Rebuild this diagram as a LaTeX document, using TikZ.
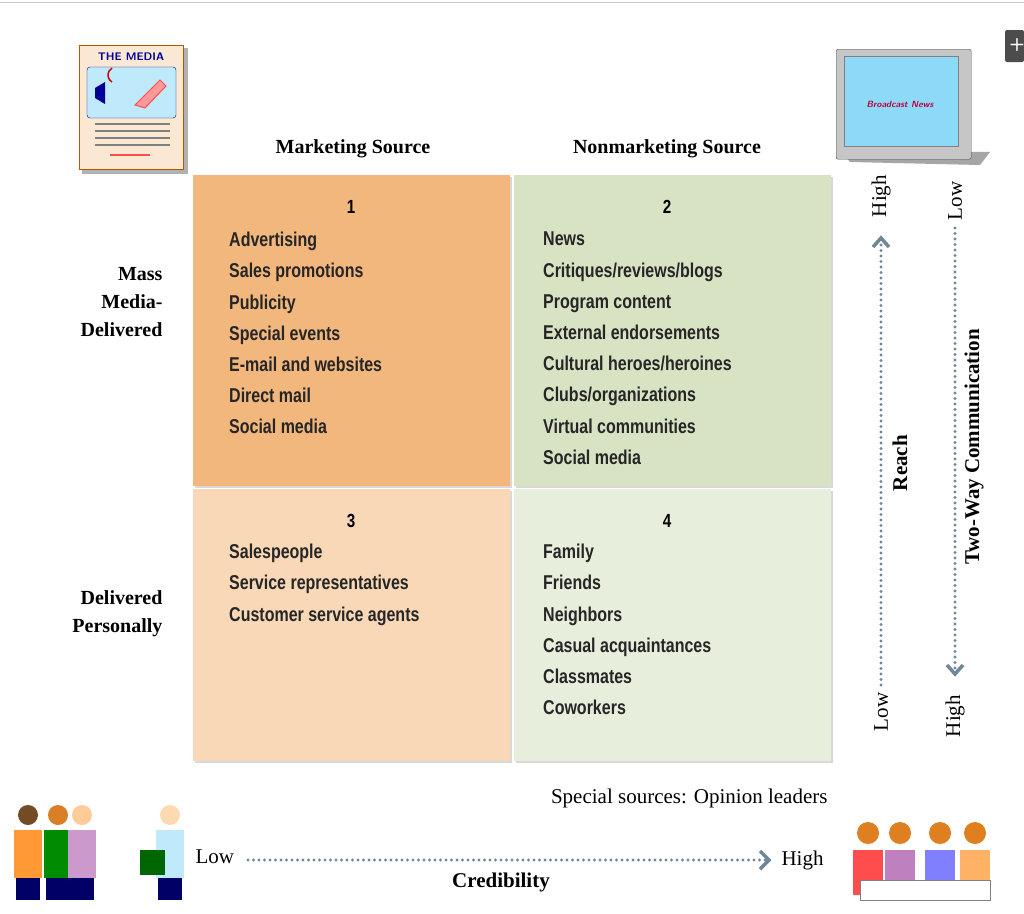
\documentclass[tikz,border=0pt]{standalone}
\usepackage{fontspec}
\setmainfont{Liberation Serif}
\newfontfamily\narrow{Liberation Sans}[FakeStretch=0.8]
\usetikzlibrary{shadows,arrows.meta}
\definecolor{qone}{HTML}{F2B77D}
\definecolor{qtwo}{HTML}{D8E3C4}
\definecolor{qthree}{HTML}{F8D8B6}
\definecolor{qfour}{HTML}{E7EEDB}
\definecolor{arr}{HTML}{6F8796}
\begin{document}
\begin{tikzpicture}[x=1pt,y=-1pt,
 quad/.style={draw=none,minimum width=317,minimum height=#1,anchor=north west,drop shadow={shadow xshift=2pt,shadow yshift=-2pt,opacity=0.3}},
 items/.style={font=\narrow\bfseries\fontsize{20}{31.2}\selectfont,align=left,anchor=north west,inner sep=0,text=black!85},
 num/.style={font=\narrow\bfseries\fontsize{19}{22}\selectfont},
 lab/.style={font=\fontsize{21}{28}\selectfont},
 dots/.style={arr,line width=3.2pt,dash pattern=on 0pt off 5.5pt,line cap=round},
 tip/.style={arr,line width=3.5pt}]
\useasboundingbox (0,0) rectangle (1024,913);
\fill[white] (0,0) rectangle (1024,913);
\draw[gray!40] (0,2)--(1024,2);
% quadrants
\node[quad=311,fill=qone] (q1) at (193,175) {};
\node[quad=311,fill=qtwo] (q2) at (514,175) {};
\node[quad=272,fill=qthree] (q3) at (193,489) {};
\node[quad=272,fill=qfour] (q4) at (514,489) {};
\node[num] (n1) at (351,207) {1};
\node[num] (n2) at (667,207) {2};
\node[num] (n3) at (351,521) {3};
\node[num] (n4) at (667,521) {4};
\node[items] (t1) at (229,232) {Advertising\\Sales promotions\\Publicity\\Special events\\E-mail and websites\\Direct mail\\Social media};
\node[items] (t2) at (543,232) {News\\Critiques/reviews/blogs\\Program content\\External endorsements\\Cultural heroes/heroines\\Clubs/organizations\\Virtual communities\\Social media};
\node[items] (t3) at (229,544) {Salespeople\\Service representatives\\Customer service agents};
\node[items] (t4) at (543,544) {Family\\Friends\\Neighbors\\Casual acquaintances\\Classmates\\Coworkers};
% headers
\node[lab,font=\bfseries\fontsize{20}{28}\selectfont] (h1) at (353,149) {Marketing Source};
\node[lab,font=\bfseries\fontsize{20}{28}\selectfont] (h2) at (667,149) {Nonmarketing Source};
\node[lab,font=\bfseries\fontsize{20}{28}\selectfont,align=right,anchor=east] (r1) at (166,302) {Mass\\Media-\\Delivered};
\node[lab,font=\bfseries\fontsize{20}{28}\selectfont,align=right,anchor=east] (r2) at (166,614) {Delivered\\Personally};
\node[lab,anchor=east] (sp) at (831,798) {Special sources: Opinion leaders};
% reach
\node[lab,rotate=90] (rl) at (881,712) {Low};
\node[lab,rotate=90] (rh) at (881,196) {High};
\coordinate (ra) at (881,685);
\coordinate (rb) at (881,240);
\draw[dots] (ra)--(rb);
\draw[tip] (873,247)--(881,238)--(889,247);
\node[lab,rotate=90] (rr) at (900,463) {\textbf{Reach}};
% two-way
\node[lab,rotate=90] (wl) at (955,201) {Low};
\node[lab,rotate=90] (wh) at (955,716) {High};
\coordinate (wa) at (955,228);
\coordinate (wb) at (955,672);
\draw[dots] (wa)--(wb);
\draw[tip] (947,665)--(955,674)--(963,665);
\node[lab,rotate=90] (ww) at (974,447) {\textbf{Two-Way Communication}};
% credibility
\node[lab,anchor=west] (cl) at (192,857) {Low};
\node[lab,anchor=west] (ch) at (778,860) {High};
\coordinate (ca) at (248,860);
\coordinate (cb) at (768,860);
\draw[dots] (ca)--(cb);
\draw[tip] (760,851)--(769,860)--(760,869);
\node[lab] (cc) at (501,882) {\textbf{Credibility}};
% media paper icon
\fill[black!30] (82,48) rectangle (188,174);
\node[draw=orange!70!black,fill=qthree!60,minimum width=104,minimum height=124,anchor=north west] (paper) at (79,45) {};
\node[font=\sffamily\bfseries\fontsize{11}{11}\selectfont,text=blue!60!black] (pm) at (131,57) {THE MEDIA};
\draw[blue!50!black,fill=cyan!25,rounded corners=3] (87,67) rectangle (176,118);
\fill[blue!60!black] (95,88) -- (105,82)--(105,104)--(95,98)--cycle;
\draw[red!80!black,line width=1.5] (112,82) arc(-60:60:-8);
\draw[red!70,fill=red!40,line width=1] (135,105)--(160,80)--(166,86)--(145,108)--cycle;
\foreach \yy in {124,131,138,145}{\draw[gray,line width=1.2] (95,\yy)--(170,\yy);}
\draw[red!70,line width=2] (110,155)--(150,155);
% tv icon
\fill[gray!70] (840,150) -- (990,152) -- (980,165) -- (850,162) -- cycle;
\node[draw=gray!60!black,fill=gray!45,minimum width=135,minimum height=110,anchor=north west,rounded corners=2] (tv) at (836,49) {};
\node[fill=cyan!45,minimum width=114,minimum height=90,anchor=north west,inner sep=0,draw=gray] (scr) at (844,56) {};
\node[font=\sffamily\bfseries\itshape\fontsize{9}{9}\selectfont,text=purple] (bn) at (900,104) {Broadcast News};
\fill[gray!60!black,rounded corners=2] (1005,30) rectangle (1024,62);
\node[text=white,font=\sffamily\bfseries\fontsize{18}{18}\selectfont] (plus) at (1017,45) {+};
% people left
\foreach \px/\col/\sk in {28/orange!80/brown!60!black,58/green!55!black/orange!40!brown,82/violet!40/orange!40,170/cyan!25/orange!30}{
  \fill[\col] (\px-14,830) rectangle (\px+14,878);
  \fill[\sk] (\px,815) circle (10);
  \fill[blue!40!black] (\px-12,878) rectangle (\px+12,900);}
\fill[green!40!black] (140,850) rectangle (165,875);
% people right
\foreach \px/\col in {868/red!70,900/violet!50,940/blue!50,975/orange!60}{
  \fill[\col] (\px-15,850) rectangle (\px+15,895);
  \fill[orange!50!brown] (\px,833) circle (11);}
\fill[white,draw=gray] (860,880) rectangle (990,900);
\end{tikzpicture}
\end{document}
